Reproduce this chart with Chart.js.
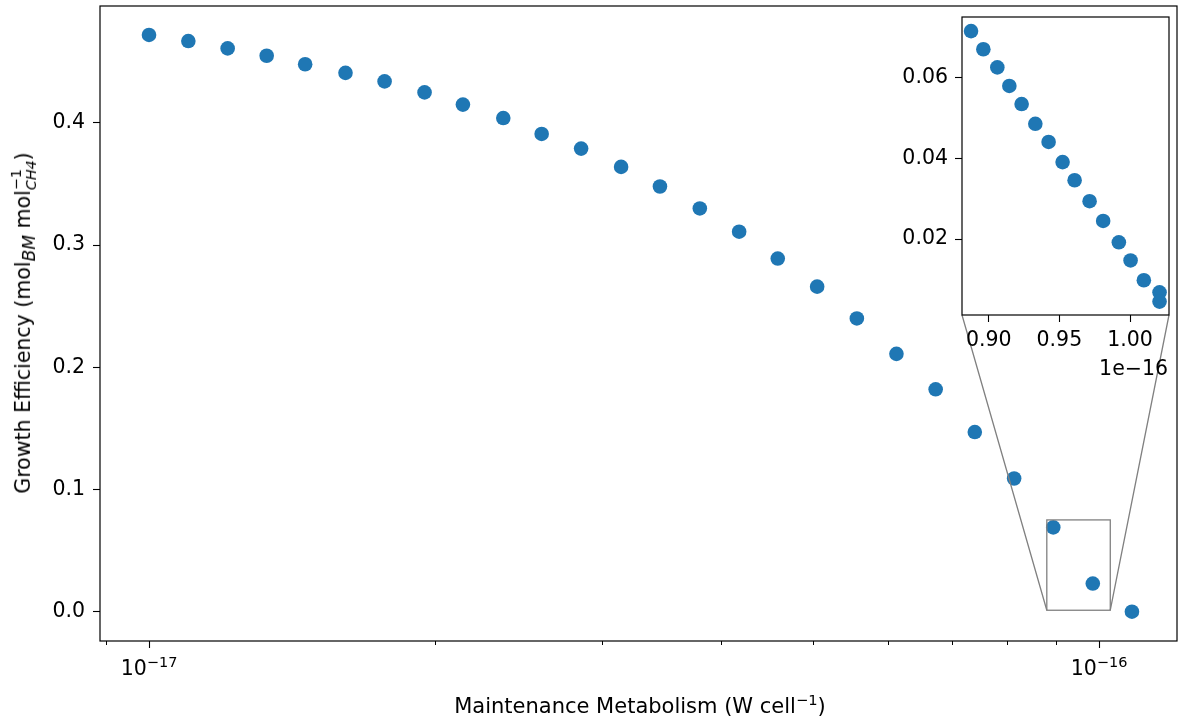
<!DOCTYPE html>
<html lang="en">
<head>
<meta charset="UTF-8">
<title>Growth Efficiency vs Maintenance Metabolism</title>
<script src="https://cdn.jsdelivr.net/npm/chart.js"></script>
<style>
    * { margin: 0; padding: 0; box-sizing: border-box; }
    body { background: #fff; font-family: 'DejaVu Sans', sans-serif; color: #000; }
    .wrap { position: relative; width: 1178px; height: 717px; overflow: hidden; }
    #mainChart { position: absolute; left: 0; top: 0; }
    #insetChart { position: absolute; left: 880px; top: 0; }
    .axis-title { position: absolute; white-space: nowrap; line-height: 1; }
    #xTitle { font-size: 21px; left: 640px; top: 705px; transform: translate(-50%, -50%); }
    #yTitle { font-size: 20.5px; left: 24px; top: 323px; transform: translate(-50%, -50%) rotate(-90deg); }
    .axis-title sup { font-size: 70%; }
    .stack { display: inline-block; vertical-align: middle; font-size: 70%; line-height: 1.05; text-align: left; }
    .stack span { display: block; }
</style>
</head>
<body>
<div class="wrap">
    <canvas id="mainChart" width="1178" height="717"></canvas>
    <canvas id="insetChart" width="298" height="400"></canvas>
    <div class="axis-title" id="xTitle">Maintenance Metabolism (W cell<sup>−1</sup>)</div>
    <div class="axis-title" id="yTitle">Growth Efficiency (mol<sub><i>BM</i></sub> mol<span class="stack"><span>−1</span><span><i>CH4</i></span></span>)</div>
</div>
<script>
    // main scatter, W per cell
    const maintenance = [
        1.00e-17, 1.10e-17, 1.21e-17, 1.33e-17, 1.46e-17, 1.61e-17, 1.77e-17, 1.95e-17,
        2.14e-17, 2.36e-17, 2.59e-17, 2.85e-17, 3.14e-17, 3.45e-17, 3.80e-17, 4.18e-17,
        4.59e-17, 5.05e-17, 5.56e-17, 6.12e-17, 6.73e-17, 7.40e-17, 8.14e-17, 8.95e-17,
        9.85e-17, 1.083e-16
    ];
    const efficiency = [
        0.472, 0.467, 0.461, 0.455, 0.448, 0.441, 0.434, 0.425,
        0.415, 0.404, 0.391, 0.379, 0.364, 0.348, 0.330, 0.311,
        0.289, 0.266, 0.240, 0.211, 0.182, 0.147, 0.109, 0.069,
        0.023, 0.000
    ];

    // zoomed region (finer sampling)
    const insetMaintenance = [
        0.8875e-16, 0.8962e-16, 0.9061e-16, 0.9146e-16, 0.9233e-16, 0.9330e-16, 0.9424e-16, 0.9523e-16,
        0.9608e-16, 0.9714e-16, 0.9810e-16, 0.9921e-16, 1.0004e-16, 1.0098e-16, 1.0209e-16, 1.0209e-16
    ];
    const insetEfficiency = [
        0.0716, 0.0671, 0.0626, 0.0580, 0.0535, 0.0486, 0.0441, 0.0391,
        0.0346, 0.0294, 0.0245, 0.0192, 0.0147, 0.0098, 0.0068, 0.0045
    ];

    const yTicks = [0.0, 0.1, 0.2, 0.3, 0.4];
    const xMajorTicks = [1e-17, 1e-16];
    const xMajorExp = ['−17', '−16'];
    const xMinorTicks = [9e-18, 2e-17, 3e-17, 4e-17, 5e-17, 6e-17, 7e-17, 8e-17, 9e-17];
    const insetXTicks = [0.90e-16, 0.95e-16, 1.00e-16];
    const insetYTicks = [0.02, 0.04, 0.06];
    const zoomBox = { x0: 0.8811e-16, x1: 1.0276e-16, y0: 0.00117, y1: 0.0751 };

    const BLUE = '#1f77b4';
    const FONT = { family: 'DejaVu Sans', size: 20.5 };
    const DOT = 7.3;

    function noPadY(s, w) { s.width = w; s.paddingTop = 0; s.paddingBottom = 0; }
    function noPadX(s, h) { s.height = h; s.paddingLeft = 0; s.paddingRight = 0; }

    // white face + black frame around a chart area
    const framePlugin = {
        id: 'frame',
        beforeDatasetsDraw(chart) {
            const a = chart.chartArea, ctx = chart.ctx;
            if (chart.canvas.id === 'insetChart') {
                ctx.save();
                ctx.fillStyle = '#fff';
                ctx.fillRect(a.left, a.top, a.right - a.left, a.bottom - a.top);
                ctx.restore();
            }
        },
        afterDraw(chart) {
            const a = chart.chartArea, ctx = chart.ctx;
            ctx.save();
            ctx.strokeStyle = '#000';
            ctx.lineWidth = 1.2;
            ctx.strokeRect(a.left, a.top, a.right - a.left, a.bottom - a.top);
            ctx.restore();
        }
    };

    let insetChart;

    const insetCtx = document.getElementById('insetChart').getContext('2d');
    insetChart = new Chart(insetCtx, {
        type: 'scatter',
        data: {
            datasets: [{
                data: insetMaintenance.map((x, i) => ({ x: x, y: insetEfficiency[i] })),
                backgroundColor: BLUE,
                borderWidth: 0,
                pointRadius: DOT,
                pointHoverRadius: DOT
            }]
        },
        options: {
            responsive: false,
            animation: false,
            events: [],
            layout: { autoPadding: false, padding: { left: 0, top: 17, right: 9, bottom: 45 } },
            plugins: { legend: { display: false }, tooltip: { enabled: false } },
            scales: {
                x: {
                    type: 'linear',
                    min: zoomBox.x0, max: zoomBox.x1,
                    afterBuildTicks: s => { s.ticks = insetXTicks.map(v => ({ value: v })); },
                    afterFit: s => noPadX(s, 40),
                    grid: { drawOnChartArea: false, tickLength: 7, color: '#000', tickWidth: 1.1 },
                    border: { display: false },
                    ticks: { color: '#000', font: FONT, padding: 6, maxRotation: 0,
                        callback: v => (v / 1e-16).toFixed(2) }
                },
                y: {
                    min: zoomBox.y0, max: zoomBox.y1,
                    afterBuildTicks: s => { s.ticks = insetYTicks.map(v => ({ value: v })); },
                    afterFit: s => noPadY(s, 82),
                    grid: { drawOnChartArea: false, tickLength: 7, color: '#000', tickWidth: 1.1 },
                    border: { display: false },
                    ticks: { color: '#000', font: FONT, padding: 7, callback: v => v.toFixed(2) }
                }
            }
        },
        plugins: [framePlugin, {
            id: 'offsetText',
            afterDraw(chart) {
                const a = chart.chartArea, ctx = chart.ctx;
                ctx.save();
                ctx.font = '20.5px "DejaVu Sans"';
                ctx.fillStyle = '#000';
                ctx.textAlign = 'right';
                ctx.textBaseline = 'alphabetic';
                ctx.fillText('1e−16', a.right - 1, 375);
                ctx.restore();
            }
        }]
    });

    // zoom rectangle and connector lines on the main axes
    const markInset = {
        id: 'markInset',
        afterDatasetsDraw(chart) {
            const xs = chart.scales.x, ys = chart.scales.y, ctx = chart.ctx;
            const l = xs.getPixelForValue(zoomBox.x0), r = xs.getPixelForValue(zoomBox.x1);
            const t = ys.getPixelForValue(zoomBox.y1), b = ys.getPixelForValue(zoomBox.y0);
            const ia = insetChart.chartArea;
            const offL = insetChart.canvas.offsetLeft, offT = insetChart.canvas.offsetTop;
            ctx.save();
            ctx.strokeStyle = '#808080';
            ctx.lineWidth = 1.3;
            ctx.strokeRect(l, t, r - l, b - t);
            ctx.beginPath();
            ctx.moveTo(offL + ia.left, offT + ia.bottom);
            ctx.lineTo(l, b);
            ctx.moveTo(offL + ia.right, offT + ia.bottom);
            ctx.lineTo(r, b);
            ctx.stroke();
            ctx.restore();
        }
    };

    // minor log ticks and 10^n labels on the x axis
    const logAxis = {
        id: 'logAxis',
        afterDraw(chart) {
            const xs = chart.scales.x, ctx = chart.ctx, y0 = chart.chartArea.bottom;
            ctx.save();
            ctx.strokeStyle = '#000';
            ctx.lineWidth = 1;
            ctx.beginPath();
            xMinorTicks.forEach(v => {
                const px = Math.round(xs.getPixelForValue(v)) + 0.5;
                ctx.moveTo(px, y0);
                ctx.lineTo(px, y0 + 4);
            });
            ctx.stroke();
            ctx.fillStyle = '#000';
            ctx.textBaseline = 'alphabetic';
            ctx.textAlign = 'left';
            xMajorTicks.forEach((v, i) => {
                const px = xs.getPixelForValue(v);
                ctx.font = '20.5px "DejaVu Sans"';
                const wBase = ctx.measureText('10').width;
                ctx.font = '14.5px "DejaVu Sans"';
                const wExp = ctx.measureText(xMajorExp[i]).width;
                const x0 = px - (wBase + wExp) / 2;
                ctx.font = '20.5px "DejaVu Sans"';
                ctx.fillText('10', x0, y0 + 34);
                ctx.font = '14.5px "DejaVu Sans"';
                ctx.fillText(xMajorExp[i], x0 + wBase, y0 + 26);
            });
            ctx.restore();
        }
    };

    const mainCtx = document.getElementById('mainChart').getContext('2d');
    new Chart(mainCtx, {
        type: 'scatter',
        data: {
            datasets: [{
                data: maintenance.map((x, i) => ({ x: x, y: efficiency[i] })),
                backgroundColor: BLUE,
                borderWidth: 0,
                pointRadius: DOT,
                pointHoverRadius: DOT
            }]
        },
        options: {
            responsive: false,
            animation: false,
            events: [],
            layout: { autoPadding: false, padding: { left: 0, top: 6, right: 1, bottom: 36 } },
            plugins: { legend: { display: false }, tooltip: { enabled: false } },
            scales: {
                x: {
                    type: 'logarithmic',
                    min: 8.88e-18, max: 1.208e-16,
                    afterBuildTicks: s => { s.ticks = xMajorTicks.map(v => ({ value: v })); },
                    afterFit: s => noPadX(s, 40),
                    grid: { drawOnChartArea: false, tickLength: 7, color: '#000', tickWidth: 1.1 },
                    border: { display: false },
                    ticks: { color: '#000', font: FONT, padding: 3, maxRotation: 0, autoSkip: false,
                        callback: () => '' }
                },
                y: {
                    min: -0.024, max: 0.4957,
                    afterBuildTicks: s => { s.ticks = yTicks.map(v => ({ value: v })); },
                    afterFit: s => noPadY(s, 100),
                    grid: { drawOnChartArea: false, tickLength: 7, color: '#000', tickWidth: 1.1 },
                    border: { display: false },
                    ticks: { color: '#000', font: FONT, padding: 8, callback: v => v.toFixed(1) }
                }
            }
        },
        plugins: [framePlugin, markInset, logAxis]
    });
</script>
</body>
</html>
